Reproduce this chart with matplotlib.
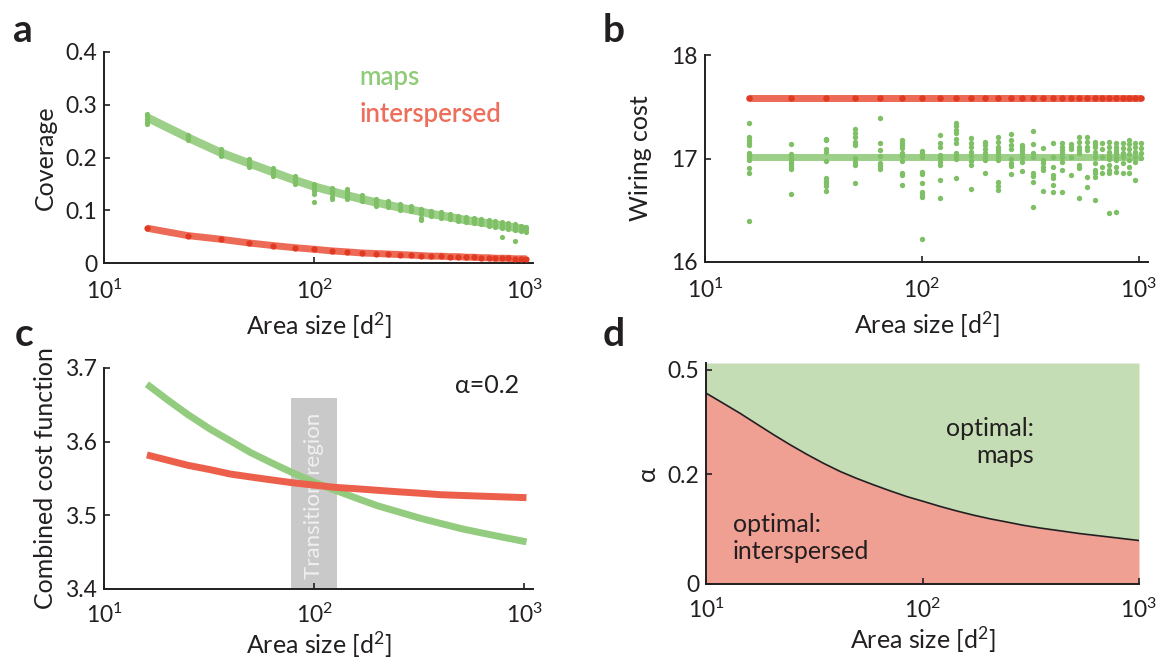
import numpy as np
import matplotlib
matplotlib.use("Agg")
import matplotlib.pyplot as plt
from matplotlib.ticker import FixedLocator, FixedFormatter, NullLocator

plt.rcParams["font.family"] = ["Lato", "DejaVu Sans"]
plt.rcParams["mathtext.fontset"] = "custom"
plt.rcParams["mathtext.rm"] = "Lato"
plt.rcParams["mathtext.it"] = "Lato:italic"
plt.rcParams["mathtext.bf"] = "Lato:bold"

# ---------- data ----------
area = [16, 25, 36, 49, 64, 81, 100, 121, 144, 169, 196, 225, 256, 289, 324,
        361, 400, 441, 484, 529, 576, 625, 676, 729, 784, 841, 900, 961, 1024]

# panel a: coverage
cov_maps = [0.276, 0.238, 0.209, 0.189, 0.172, 0.157, 0.145, 0.136, 0.128, 0.121,
            0.115, 0.110, 0.105, 0.101, 0.097, 0.093, 0.090, 0.087, 0.084, 0.081,
            0.079, 0.077, 0.075, 0.073, 0.071, 0.069, 0.067, 0.065, 0.064]
cov_inter = [0.066, 0.052, 0.045, 0.038, 0.033, 0.029, 0.026, 0.023, 0.021, 0.019,
             0.018, 0.017, 0.016, 0.015, 0.014, 0.013, 0.013, 0.012, 0.012, 0.011,
             0.011, 0.010, 0.010, 0.009, 0.009, 0.009, 0.008, 0.008, 0.008]
cov_maps_runs = [
    [0.283, 0.278, 0.273, 0.268, 0.264],
    [0.242, 0.238, 0.234],
    [0.216, 0.211, 0.206, 0.202],
    [0.197, 0.192, 0.187, 0.182],
    [0.180, 0.175, 0.170, 0.165],
    [0.165, 0.160, 0.155, 0.150],
    [0.150, 0.146, 0.141, 0.136, 0.131, 0.115],
    [0.142, 0.137, 0.132, 0.125, 0.121],
    [0.141, 0.136, 0.130, 0.125, 0.121],
    [0.128, 0.123, 0.118],
    [0.122, 0.117, 0.112, 0.108],
    [0.117, 0.112, 0.107],
    [0.111, 0.106, 0.101],
    [0.108, 0.103, 0.098],
    [0.103, 0.098, 0.093, 0.086, 0.081],
    [0.099, 0.094, 0.089],
    [0.096, 0.091, 0.086],
    [0.093, 0.088, 0.083],
    [0.090, 0.085, 0.080],
    [0.087, 0.082, 0.077],
    [0.085, 0.080, 0.075],
    [0.083, 0.078, 0.073],
    [0.081, 0.076, 0.070],
    [0.079, 0.074, 0.068],
    [0.077, 0.072, 0.066, 0.049],
    [0.075, 0.070, 0.064],
    [0.073, 0.068, 0.062, 0.042],
    [0.071, 0.066, 0.060],
    [0.069, 0.064, 0.059],
]

# panel b: wiring cost
wire_maps_mean = 17.01
wire_inter = 17.58
wire_maps_runs = [
    [17.346, 17.205, 17.179, 17.153, 17.130, 17.056, 17.034, 17.012, 16.986, 16.906, 16.857, 16.399],
    [17.137, 17.043, 17.017, 16.992, 16.969, 16.944, 16.921, 16.899, 16.654],
    [17.185, 17.179, 17.089, 17.066, 16.976, 16.809, 16.786, 16.760, 16.734, 16.689],
    [17.282, 17.244, 17.205, 17.162, 17.130, 17.002, 16.969, 16.937, 16.766],
    [17.394, 17.147, 17.082, 17.024, 16.953, 16.928, 16.896],
    [17.179, 17.153, 17.130, 17.098, 17.050, 17.024, 16.976, 16.863, 16.841, 16.744],
    [17.075, 17.050, 17.011, 16.873, 16.850, 16.760, 16.679, 16.647, 16.625, 16.219],
    [17.227, 17.147, 17.114, 17.034, 17.002, 16.969, 16.937, 16.792, 16.615],
    [17.346, 17.314, 17.275, 17.243, 17.185, 17.153, 17.056, 17.024, 16.992, 16.809],
    [17.195, 17.153, 17.114, 17.066, 17.024, 16.979, 16.937, 16.702],
    [17.162, 17.130, 17.089, 17.050, 17.017, 16.986, 16.863],
    [17.205, 17.162, 17.114, 17.082, 17.050, 17.017, 16.986, 16.776, 16.734, 16.696],
    [17.237, 17.179, 17.130, 17.089, 16.992, 16.959, 16.928, 16.850],
    [17.130, 17.108, 17.082, 17.050, 17.011, 16.969, 16.882],
    [17.266, 17.137, 17.050, 17.011, 16.857, 16.831, 16.776, 16.528],
    [17.098, 16.986, 16.953, 16.921, 16.889, 16.689],
    [17.147, 17.011, 16.921, 16.841, 16.809, 16.744, 16.679],
    [17.147, 17.114, 17.082, 17.050, 17.011, 16.969, 16.889, 16.679],
    [17.140, 17.114, 17.089, 17.011, 16.841],
    [17.205, 17.162, 17.114, 17.082, 17.050, 16.937, 16.905, 16.615],
    [17.211, 17.162, 17.114, 17.082, 16.824, 16.722],
    [17.162, 17.140, 17.114, 17.066, 17.018, 16.953, 16.889, 16.857, 16.824, 16.599],
    [17.147, 17.089, 17.018, 16.921, 16.857],
    [17.162, 17.114, 17.066, 17.024, 16.992, 16.937, 16.889, 16.857, 16.470],
    [17.147, 17.114, 17.082, 17.050, 17.018, 16.986, 16.921, 16.873, 16.480],
    [17.147, 17.098, 17.056, 17.011, 16.959, 16.857],
    [17.179, 17.140, 17.089, 17.044, 16.986, 16.921, 16.863],
    [17.153, 17.114, 17.066, 17.018, 16.969, 16.792],
    [17.147, 17.098, 17.050, 17.002],
]

# panel c: combined cost, alpha = 0.2
cost_x = [16, 20, 25, 32, 40, 50, 63, 80, 100, 126, 160, 200, 250, 320, 400,
          500, 630, 800, 1024]
cost_maps = [3.678, 3.657, 3.637, 3.617, 3.601, 3.585, 3.571, 3.557, 3.545, 3.534,
             3.523, 3.513, 3.505, 3.496, 3.489, 3.482, 3.476, 3.470, 3.464]
cost_inter = [3.582, 3.575, 3.568, 3.562, 3.556, 3.552, 3.548, 3.544, 3.541, 3.538,
              3.536, 3.534, 3.532, 3.530, 3.528, 3.527, 3.526, 3.525, 3.524]
trans_x = [78, 128]
trans_top = 3.659

# panel d: phase boundary
bound_x = [10, 12, 14.4, 17.2, 20.5, 24.5, 29.2, 34.9, 41.6, 49.7, 59.3, 70.8,
           84.5, 101, 120.5, 144, 171.8, 205, 245, 292, 349, 432, 534, 730, 1000]
bound_a = [0.421, 0.389, 0.358, 0.327, 0.298, 0.271, 0.247, 0.225, 0.206, 0.190,
           0.176, 0.163, 0.151, 0.141, 0.131, 0.122, 0.114, 0.107, 0.101, 0.095,
           0.090, 0.085, 0.080, 0.074, 0.068]

x_ticks = [10, 100, 1000]
x_ticklabels = ["$10^{1}$", "$10^{2}$", "$10^{3}$"]
a_ticks = [0, 0.1, 0.2, 0.3, 0.4]
a_ticklabels = ["0", "0.1", "0.2", "0.3", "0.4"]
b_ticks = [16, 17, 18]
b_ticklabels = ["16", "17", "18"]
c_ticks = [3.4, 3.5, 3.6, 3.7]
c_ticklabels = ["3.4", "3.5", "3.6", "3.7"]
d_ticks = [0, 0.2, 0.5]
d_ticklabels = ["0", "0.2", "0.5"]

# ---------- style ----------
GREEN_LINE = "#9ccf88"
GREEN_DOT = "#7fc066"
RED_LINE = "#ec6a56"
RED_DOT = "#e13a22"
GREEN_FILL = "#c4ddb5"
RED_FILL = "#f09f93"
AX_COL = "#231f20"
TICK_FS = 16.5
LABEL_FS = 18

W, H = 1166, 662
fig = plt.figure(figsize=(W / 100, H / 100), dpi=100)


def box(left, top, right, bottom):
    return [left / W, 1 - bottom / H, (right - left) / W, (bottom - top) / H]


def style(ax, yticks, yticklabels, xpad=11, xlabelpad=6):
    for s in ["top", "right"]:
        ax.spines[s].set_visible(False)
    for s in ["left", "bottom"]:
        ax.spines[s].set_linewidth(1.4)
        ax.spines[s].set_color(AX_COL)
    ax.set_xscale("log")
    ax.xaxis.set_major_locator(FixedLocator(x_ticks))
    ax.xaxis.set_major_formatter(FixedFormatter(x_ticklabels))
    ax.xaxis.set_minor_locator(NullLocator())
    ax.yaxis.set_major_locator(FixedLocator(yticks))
    ax.yaxis.set_major_formatter(FixedFormatter(yticklabels))
    ax.yaxis.set_minor_locator(NullLocator())
    ax.tick_params(direction="in", length=4, width=1.2, color=AX_COL,
                   labelsize=TICK_FS, labelcolor=AX_COL)
    ax.tick_params(axis="x", pad=xpad)
    ax.tick_params(axis="y", pad=5)
    ax.set_xlabel("Area size [d$^2$]", fontsize=LABEL_FS, color=AX_COL,
                  labelpad=xlabelpad)


def flatten(xs, runs_list):
    px, py = [], []
    for x, runs in zip(xs, runs_list):
        for v in runs:
            px.append(x)
            py.append(v)
    return px, py


# ---------- a ----------
ax = fig.add_axes(box(104, 52, 533, 263))
style(ax, a_ticks, a_ticklabels)
ax.plot(area, cov_maps, color=GREEN_LINE, lw=6, solid_capstyle="butt", zorder=2)
ax.plot(area, cov_inter, color=RED_LINE, lw=5, solid_capstyle="butt", zorder=2)
gx, gy = flatten(area, cov_maps_runs)
ax.scatter(gx, gy, s=14, color=GREEN_DOT, lw=0, zorder=3)
ax.scatter(area, cov_inter, s=20, color=RED_DOT, lw=0, zorder=3)
ax.set_xlim(10, 1100)
ax.set_ylim(0, 0.4)
ax.set_ylabel("Coverage", fontsize=LABEL_FS, color=AX_COL, labelpad=6)
ax.text(165, 0.337, "maps", color="#8fcb78", fontsize=18.5, fontweight="semibold")
ax.text(165, 0.267, "interspersed", color="#ee6e5c", fontsize=18.5,
        fontweight="semibold")

# ---------- b ----------
ax = fig.add_axes(box(705, 55, 1148, 262))
style(ax, b_ticks, b_ticklabels)
ax.plot([area[0], area[-1]], [wire_maps_mean] * 2, color=GREEN_LINE, lw=5,
        solid_capstyle="butt", zorder=2)
ax.plot([area[0], area[-1]], [wire_inter] * 2, color=RED_LINE, lw=5,
        solid_capstyle="butt", zorder=2)
gx, gy = flatten(area, wire_maps_runs)
ax.scatter(gx, gy, s=15, color=GREEN_DOT, lw=0, zorder=3)
ax.scatter(area, [wire_inter] * len(area), s=22, color=RED_DOT, lw=0, zorder=3)
ax.set_xlim(10, 1100)
ax.set_ylim(16, 18)
ax.set_ylabel("Wiring cost", fontsize=LABEL_FS, color=AX_COL, labelpad=14)

# ---------- c ----------
ax = fig.add_axes(box(104, 368, 533, 589))
style(ax, c_ticks, c_ticklabels, xpad=10, xlabelpad=2)
ax.fill_between(trans_x, c_ticks[0], trans_top, color="#c9c9c9", lw=0, zorder=1)
ax.text(100, 3.527, "Transition region", rotation=90, ha="center", va="center",
        color="#f0f0f0", fontsize=16, zorder=2)
ax.plot(cost_x, cost_maps, color="#93cc7e", lw=5, solid_capstyle="butt",
        solid_joinstyle="round", zorder=3)
ax.plot(cost_x, cost_inter, color="#ec5f4a", lw=5, solid_capstyle="butt",
        solid_joinstyle="round", zorder=3)
ax.set_xlim(10, 1100)
ax.set_ylim(3.4, 3.7)
ax.set_ylabel("Combined cost function", fontsize=LABEL_FS, color=AX_COL, labelpad=6)
ax.text(0.967, 0.923, "α=0.2", transform=ax.transAxes, ha="right", va="center",
        fontsize=18, color=AX_COL)

# ---------- d ----------
ax = fig.add_axes(box(706, 363, 1139, 584))
ax.set_yscale("function", functions=(lambda y: np.log(np.asarray(y) + 0.33),
                                     lambda t: np.exp(t) - 0.33))
style(ax, d_ticks, d_ticklabels, xpad=10, xlabelpad=2)
top = 0.525
ax.fill_between(bound_x, 0, bound_a, color=RED_FILL, lw=0, zorder=1)
ax.fill_between(bound_x, bound_a, top, color=GREEN_FILL, lw=0, zorder=1)
ax.plot(bound_x, bound_a, color=AX_COL, lw=1.2, zorder=2)
ax.set_xlim(10, 1000)
ax.set_ylim(0, top)
ax.set_ylabel("α", fontsize=LABEL_FS, color=AX_COL, labelpad=6)
ax.text(0.757, 0.643, "optimal:\nmaps", transform=ax.transAxes, ha="right",
        va="center", multialignment="right", fontsize=18, color=AX_COL,
        linespacing=1.25)
ax.text(0.062, 0.208, "optimal:\ninterspersed", transform=ax.transAxes, ha="left",
        va="center", fontsize=18, color=AX_COL, linespacing=1.25)

# ---------- panel letters ----------
for lx, ly, letter in [(13, 42, "a"), (603, 42, "b"), (15, 346, "c"), (603, 346, "d")]:
    fig.text(lx / W, 1 - ly / H, letter, fontsize=28, fontweight="bold",
             color=AX_COL, va="baseline")

fig.savefig("out.png", dpi=100)
